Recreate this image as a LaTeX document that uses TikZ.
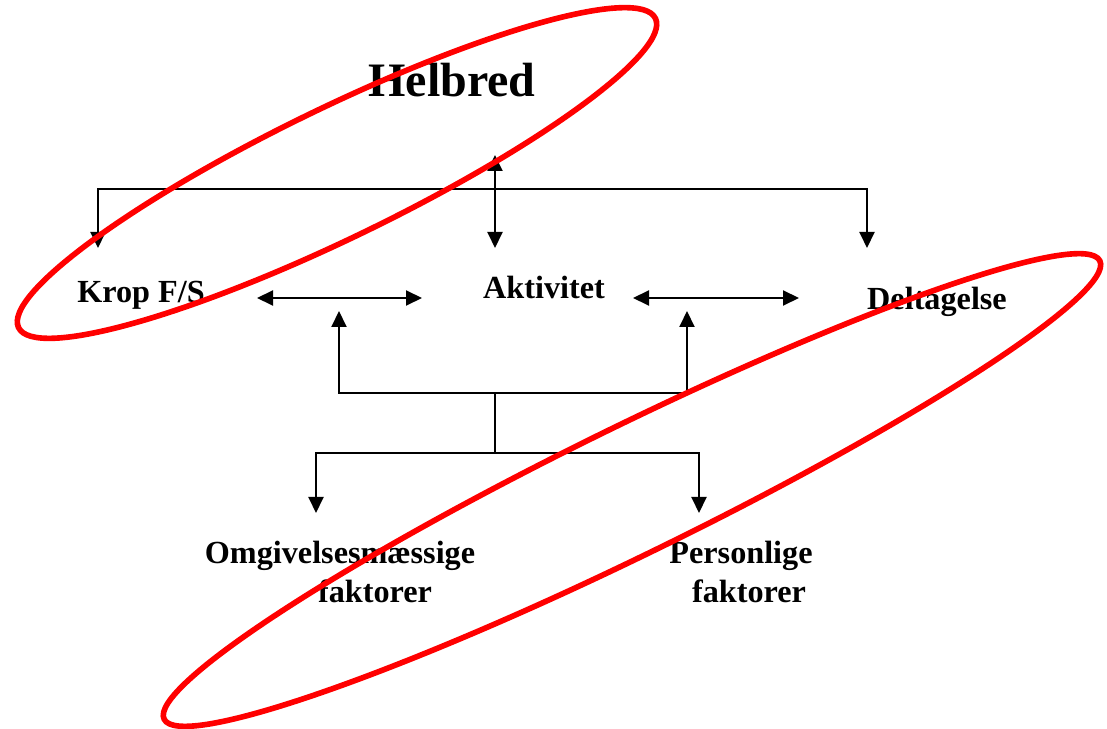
\documentclass[tikz,border=0pt]{standalone}
\usepackage{fontspec}
\setmainfont{Liberation Serif}
\usetikzlibrary{arrows.meta, positioning}

\begin{document}
\begin{tikzpicture}[
  lbl/.style={font=\fontsize{27.5}{33.3}\selectfont\bfseries, inner sep=0pt},
  conn/.style={line width=1.7pt},
  twoarrow/.style={{Triangle[length=4.8mm, width=4.5mm]}-{Triangle[length=4.8mm, width=4.5mm]}},
  ring/.style={draw=red, line width=4.8pt}
]
  \useasboundingbox (0,0) rectangle (33.21,21.84);

  % Labels
  \node[lbl, font=\fontsize{41}{49}\selectfont\bfseries, anchor=base] (helbred) at (13.56, 18.93) {Helbred};
  \node[lbl, anchor=base] (krop) at (4.23, 12.75) {Krop F/S};
  \node[lbl, anchor=base] (aktivitet) at (16.32, 12.87) {Aktivitet};
  \node[lbl, anchor=base] (deltagelse) at (28.11, 12.54) {Deltagelse};
  \node[lbl, anchor=north, align=center] (omgiv) at (10.20, 5.61) {Omgivelsesmæssige\\\hspace*{2.1cm}faktorer};
  \node[lbl, anchor=north, align=center] (person) at (22.23, 5.61) {Personlige\\\hspace*{0.48cm}faktorer};

  % Arrow ends and junctions
  \coordinate (kropIn) at (2.94, 14.40);
  \coordinate (deltIn) at (26.01, 14.40);
  \coordinate (topBar) at (26.01, 16.17);
  \coordinate (aktTop) at (14.85, 17.19);
  \coordinate (aktIn) at (14.85, 14.40);
  \coordinate (kropR) at (7.71, 12.90);
  \coordinate (aktL) at (12.66, 12.90);
  \coordinate (aktR) at (18.99, 12.90);
  \coordinate (deltL) at (23.97, 12.90);
  \coordinate (leftUp) at (10.17, 12.51);
  \coordinate (rightUp) at (20.61, 12.51);
  \coordinate (hubR) at (20.61, 10.05);
  \coordinate (hubM) at (14.85, 10.05);
  \coordinate (hubLow) at (14.85, 8.25);
  \coordinate (omgIn) at (9.48, 6.45);
  \coordinate (persIn) at (20.97, 6.45);
  \coordinate (lowBar) at (20.97, 8.25);

  % Connectors
  \draw[conn, twoarrow] (kropIn) |- (topBar) -- (deltIn);
  \draw[conn, twoarrow] (aktTop) -- (aktIn);
  \draw[conn, twoarrow] (kropR) -- (aktL);
  \draw[conn, twoarrow] (aktR) -- (deltL);
  \draw[conn, twoarrow] (leftUp) |- (hubR) -- (rightUp);
  \draw[conn] (hubM) -- (hubLow);
  \draw[conn, twoarrow] (omgIn) |- (lowBar) -- (persIn);

  % Red rings
  \draw[ring] (10.11, 16.65) ellipse [x radius=10.62, y radius=1.95, rotate=25.9];
  \draw[ring] (18.96, 7.14) ellipse [x radius=15.63, y radius=1.92, rotate=26.1];
\end{tikzpicture}
\end{document}
